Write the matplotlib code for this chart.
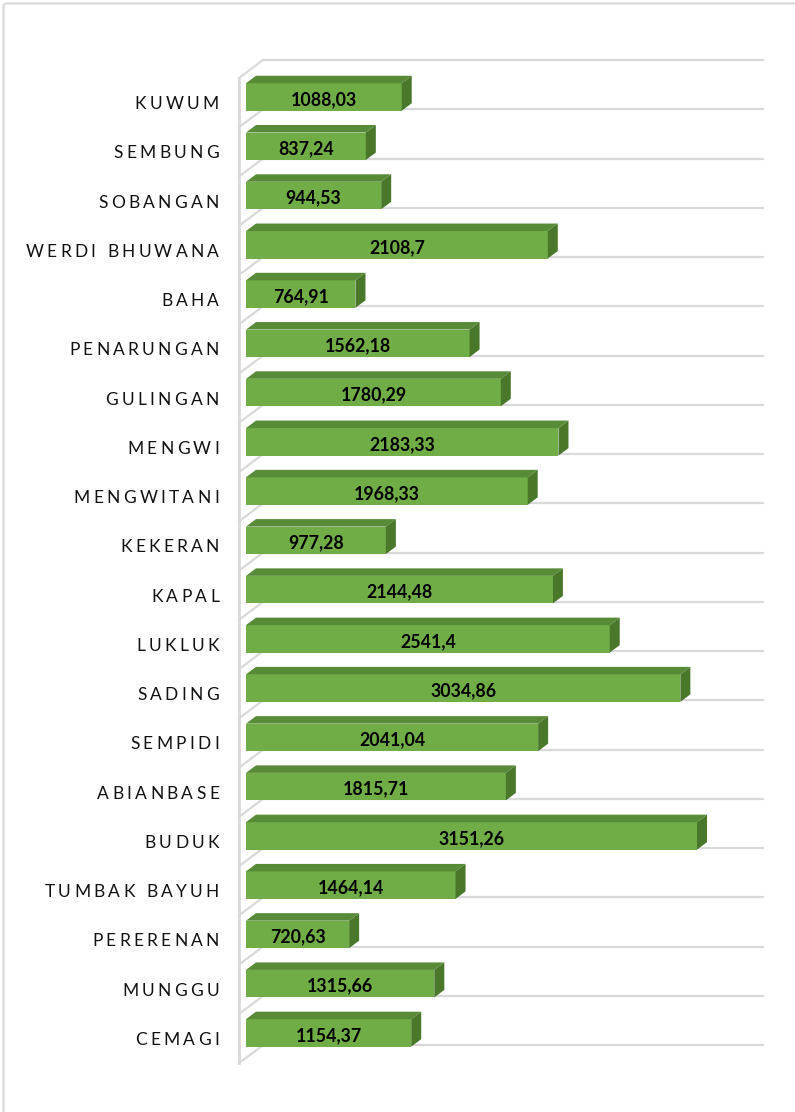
import matplotlib
matplotlib.use("Agg")
import matplotlib.pyplot as plt
from matplotlib.patches import Polygon, FancyBboxPatch
from matplotlib.font_manager import FontProperties

# ---------------- data ----------------
categories = ["KUWUM", "SEMBUNG", "SOBANGAN", "WERDI BHUWANA", "BAHA", "PENARUNGAN",
              "GULINGAN", "MENGWI", "MENGWITANI", "KEKERAN", "KAPAL", "LUKLUK",
              "SADING", "SEMPIDI", "ABIANBASE", "BUDUK", "TUMBAK BAYUH", "PERERENAN",
              "MUNGGU", "CEMAGI"]
values = [1088.03, 837.24, 944.53, 2108.7, 764.91, 1562.18,
          1780.29, 2183.33, 1968.33, 977.28, 2144.48, 2541.4,
          3034.86, 2041.04, 1815.71, 3151.26, 1464.14, 720.63,
          1315.66, 1154.37]
value_labels = ["1088,03", "837,24", "944,53", "2108,7", "764,91", "1562,18",
                "1780,29", "2183,33", "1968,33", "977,28", "2144,48", "2541,4",
                "3034,86", "2041,04", "1815,71", "3151,26", "1464,14", "720,63",
                "1315,66", "1154,37"]
x_max = 3500

# ---------------- geometry (pixel based layout) ----------------
W, H = 795, 1112
X0_PX = 246.0          # pixel of value 0 on the front plane
PX_PER_UNIT = 0.14312  # pixels per value unit
ROW0_PX = 97.0         # pixel centre of first row
ROW_PX = 49.26         # pixels per row
U = 1.0 / PX_PER_UNIT  # value units per pixel
R = 1.0 / ROW_PX       # rows per pixel

FRONT = "#70AD47"
TOP = "#588B38"
SIDE = "#4A782B"
GRID = "#D9D9D9"

fig = plt.figure(figsize=(W / 100, H / 100), dpi=100)
ax = fig.add_axes([0, 0, 1, 1])
ax.set_xlim(-X0_PX * U, (W - X0_PX) * U)
ax.set_ylim((H - ROW0_PX) * R, -ROW0_PX * R)
ax.axis("off")

# chart border
fig.patches.append(FancyBboxPatch((3.5, -20), 820, H - 3.5 + 20, boxstyle="round,pad=0,rounding_size=3",
                                  transform=None, fill=False, edgecolor=GRID, linewidth=1.5))

n = len(categories)
rows = list(range(n))

# back wall gridlines + left wall
back_dx = 17 * U
grid_shift = -37 * R
wall_x = -7 * U
wall_dy = 18 * R
for k in range(n + 1):
    gy = k + grid_shift
    ax.plot([back_dx, x_max + back_dx], [gy, gy], color=GRID, lw=1.6, solid_capstyle="butt", zorder=1)
    ax.plot([back_dx, wall_x], [gy, gy + wall_dy], color=GRID, lw=1.6, zorder=1)
ax.plot([wall_x, wall_x], [grid_shift + wall_dy, n + grid_shift + wall_dy], color=GRID, lw=2, zorder=1)

# bars
bar_h = 27.5 * R
dx = 10 * U
dy = 7.5 * R
ax.barh(rows, values, height=bar_h, left=0, color=FRONT, edgecolor="none", zorder=3)
for i, v in zip(rows, values):
    yt = i - bar_h / 2
    yb = i + bar_h / 2
    ax.add_patch(Polygon([(0, yt), (v, yt), (v + dx, yt - dy), (dx, yt - dy)],
                         closed=True, facecolor=TOP, edgecolor="none", zorder=3))
    ax.add_patch(Polygon([(v, yt), (v + dx, yt - dy), (v + dx, yb - dy), (v, yb)],
                         closed=True, facecolor=SIDE, edgecolor="none", zorder=3))

# value labels
for i, v, lab in zip(rows, values, value_labels):
    ax.text(v / 2, i + 2.5 * R, lab, ha="center", va="center", fontsize=12.8,
            fontfamily="Lato", fontweight="bold", color="#000000", zorder=5)

# category labels with letter spacing
fig.canvas.draw()
renderer = fig.canvas.get_renderer()
prop = FontProperties(family="Lato", size=12.5)
tracking_px = 3.3
label_right_px = 219
for i, cat in zip(rows, categories):
    x_px = label_right_px
    for ch in reversed(cat):
        w, _, _ = renderer.get_text_width_height_descent(ch if ch != " " else "n", prop, ismath=False)
        if ch == " ":
            w = w * 0.5
        else:
            ax.text((x_px - X0_PX) * U, i + 7 * R, ch, ha="right", va="center",
                    fontproperties=prop, color="#111111", zorder=5)
        x_px -= w + tracking_px

fig.savefig("out.png", dpi=100)
